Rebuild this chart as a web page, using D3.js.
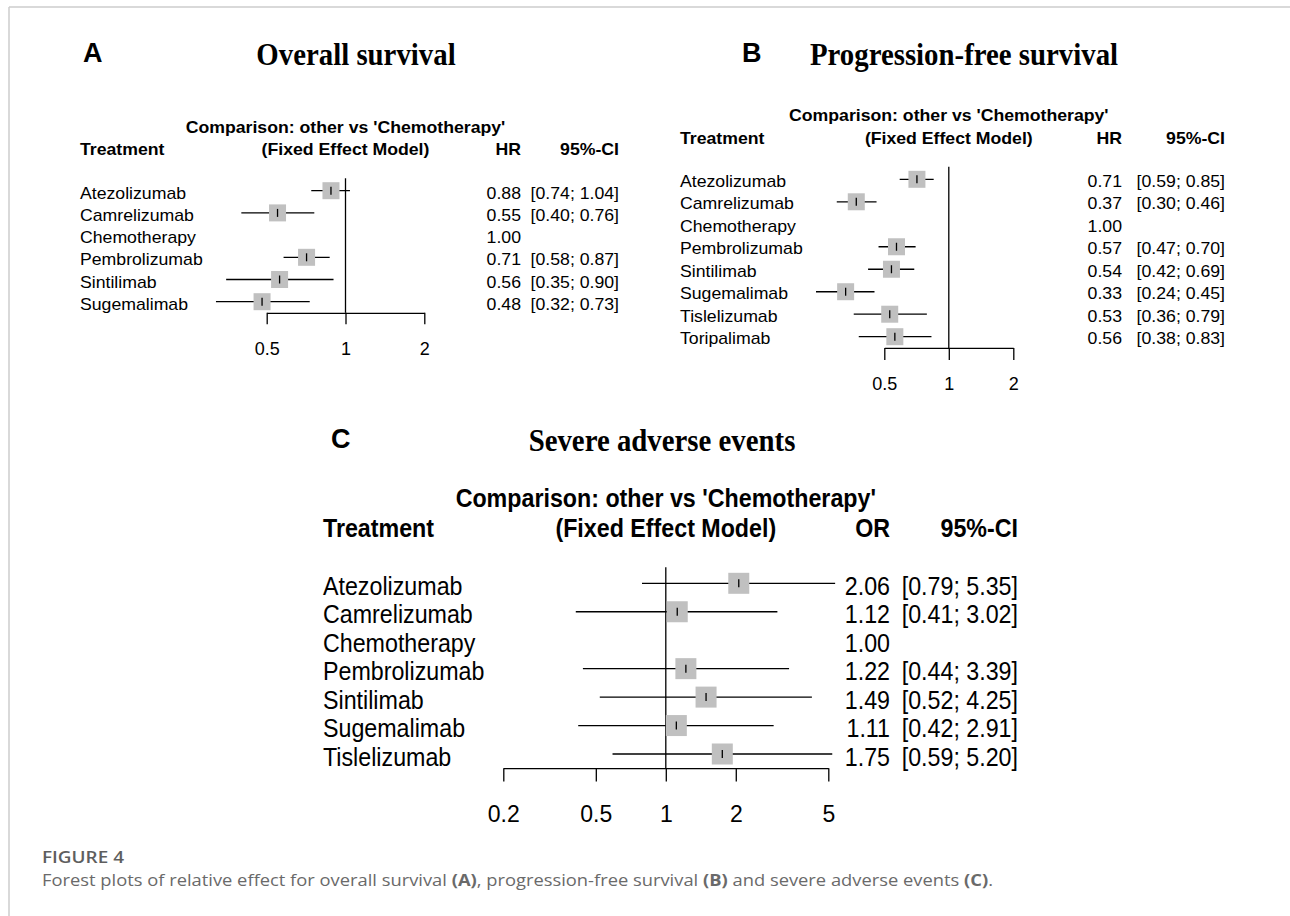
<!DOCTYPE html>
<html>
<head>
<meta charset="utf-8">
<script src="https://cdn.jsdelivr.net/npm/d3@7"></script>
<style>
body { margin: 0; background: #fff; }
svg { display: block; }
</style>
</head>
<body>
<script>
// ---- data ----
let os_treatments = ["Atezolizumab", "Camrelizumab", "Chemotherapy", "Pembrolizumab", "Sintilimab", "Sugemalimab"];
let os_hr    = [0.88, 0.55, 1.00, 0.71, 0.56, 0.48];
let os_lower = [0.74, 0.40, null, 0.58, 0.35, 0.32];
let os_upper = [1.04, 0.76, null, 0.87, 0.90, 0.73];

let pfs_treatments = ["Atezolizumab", "Camrelizumab", "Chemotherapy", "Pembrolizumab", "Sintilimab", "Sugemalimab", "Tislelizumab", "Toripalimab"];
let pfs_hr    = [0.71, 0.37, 1.00, 0.57, 0.54, 0.33, 0.53, 0.56];
let pfs_lower = [0.59, 0.30, null, 0.47, 0.42, 0.24, 0.36, 0.38];
let pfs_upper = [0.85, 0.46, null, 0.70, 0.69, 0.45, 0.79, 0.83];

let sae_treatments = ["Atezolizumab", "Camrelizumab", "Chemotherapy", "Pembrolizumab", "Sintilimab", "Sugemalimab", "Tislelizumab"];
let sae_or    = [2.06, 1.12, 1.00, 1.22, 1.49, 1.11, 1.75];
let sae_lower = [0.79, 0.41, null, 0.44, 0.52, 0.42, 0.59];
let sae_upper = [5.35, 3.02, null, 3.39, 4.25, 2.91, 5.20];

let ticks_survival = [0.5, 1, 2];
let ticks_sae = [0.2, 0.5, 1, 2, 5];

let width = 1290,
    height = 916;

let svg = d3.select("body")
    .append("svg")
    .attr("width", width)
    .attr("height", height)
    .style("font-family", "'Liberation Sans', Arial, sans-serif");

// page frame
svg.append("line")
    .attr("x1", 9).attr("x2", width).attr("y1", 7).attr("y2", 7)
    .attr("stroke", "#cccccc").attr("stroke-width", 1.5);
svg.append("line")
    .attr("x1", 9).attr("x2", 9).attr("y1", 7).attr("y2", height)
    .attr("stroke", "#cccccc").attr("stroke-width", 1.5);

function put_text(g, x, y, str, size, sx, anchor, weight){
    return g.append("text")
        .attr("transform", "translate(" + x + "," + y + ") scale(" + sx + ",1)")
        .attr("text-anchor", anchor)
        .style("font-size", size + "px")
        .style("font-weight", weight)
        .attr("fill", "#000")
        .text(str);
}

function fmt(v){ return v.toFixed(2); }

function forest(p){
    let g = svg.append("g");
    let x = d3.scaleLog().domain(d3.extent(p.ticks)).range(p.xRange);
    let y = d3.scalePoint().domain(p.treatments).range(p.yRange);
    let step = y.step();
    let axisY = p.yRange[1] + step * 0.5;
    let rows = p.treatments.map(function(t, i){
        return {name: t, est: p.est[i], lo: p.lower[i], hi: p.upper[i]};
    });
    let dy = p.fontSize * 0.36 + p.textShift;

    /* ------- panel letter and title -------*/
    g.append("text")
        .attr("x", p.letterX).attr("y", p.letterY)
        .style("font-size", "27px").style("font-weight", "bold")
        .text(p.letter);
    g.append("text")
        .attr("transform", "translate(" + p.titleX + "," + p.titleY + ") scale(0.93,1)")
        .attr("text-anchor", "middle")
        .style("font-family", "'Liberation Serif', 'Times New Roman', serif")
        .style("font-size", "31px").style("font-weight", "bold")
        .text(p.title);

    /* ------- column headers -------*/
    put_text(g, x(1), p.hdr1, "Comparison: other vs 'Chemotherapy'", p.fontSize, p.sx, "middle", "bold");
    put_text(g, p.labelX, p.hdr2, "Treatment", p.fontSize, p.sx, "start", "bold");
    put_text(g, x(1), p.hdr2, "(Fixed Effect Model)", p.fontSize, p.sx, "middle", "bold");
    put_text(g, p.estRight, p.hdr2, p.effect, p.fontSize, p.sx, "end", "bold");
    put_text(g, p.ciRight, p.hdr2, "95%-CI", p.fontSize, p.sx, "end", "bold");

    /* ------- reference line -------*/
    g.append("line")
        .attr("x1", x(1)).attr("x2", x(1))
        .attr("y1", p.yRange[0] - step * 0.56)
        .attr("y2", axisY)
        .attr("stroke", "#000").attr("stroke-width", 1.3);

    /* ------- rows -------*/
    rows.forEach(function(d){
        let yy = y(d.name);
        put_text(g, p.labelX, yy + dy, d.name, p.fontSize, p.sx, "start", "normal");
        put_text(g, p.estRight, yy + dy, fmt(d.est), p.fontSize, p.sx, "end", "normal");
        if(d.lo === null) return;
        put_text(g, p.ciRight, yy + dy, "[" + fmt(d.lo) + "; " + fmt(d.hi) + "]", p.fontSize, p.sx, "end", "normal");

        g.append("line")
            .attr("x1", x(d.lo)).attr("x2", x(d.hi))
            .attr("y1", yy).attr("y2", yy)
            .attr("stroke", "#000").attr("stroke-width", 1.3);
        g.append("rect")
            .attr("x", x(d.est) - p.box / 2).attr("y", yy - p.box / 2)
            .attr("width", p.box).attr("height", p.box)
            .attr("fill", "#c0c0c0");
        g.append("line")
            .attr("x1", x(d.est)).attr("x2", x(d.est))
            .attr("y1", yy - 4).attr("y2", yy + 4)
            .attr("stroke", "#000").attr("stroke-width", 1.3);
    });

    /* ------- axis -------*/
    let axis = d3.axisBottom(x)
        .tickValues(p.ticks)
        .tickFormat(d3.format(""))
        .tickSize(p.tickLen)
        .tickSizeOuter(0)
        .tickPadding(p.tickPad);

    let ax = g.append("g")
        .attr("transform", "translate(0," + axisY + ")")
        .call(axis);
    ax.attr("font-family", null);
    ax.select(".domain").attr("stroke", "#000").attr("stroke-width", 1.3);
    ax.selectAll(".tick line").attr("stroke", "#000").attr("stroke-width", 1.3);
    ax.selectAll(".tick text")
        .attr("fill", "#000")
        .style("font-size", p.tickFont + "px");
}

forest({
    letter: "A", letterX: 83, letterY: 62,
    title: "Overall survival", titleX: 356, titleY: 65,
    treatments: os_treatments, est: os_hr, lower: os_lower, upper: os_upper,
    ticks: ticks_survival, effect: "HR",
    xRange: [266.7, 424.3], yRange: [190.7, 301.7],
    labelX: 80, estRight: 521, ciRight: 619,
    hdr1: 133, hdr2: 155,
    fontSize: 17, sx: 1.04, textShift: 2,
    box: 17, tickLen: 11.5, tickPad: 17.5, tickFont: 18
});

forest({
    letter: "B", letterX: 742, letterY: 62,
    title: "Progression-free survival", titleX: 964, titleY: 65,
    treatments: pfs_treatments, est: pfs_hr, lower: pfs_lower, upper: pfs_upper,
    ticks: ticks_survival, effect: "HR",
    xRange: [884.3, 1013.3], yRange: [179.3, 336.7],
    labelX: 680, estRight: 1122, ciRight: 1225,
    hdr1: 121, hdr2: 143.5,
    fontSize: 17, sx: 1.04, textShift: 1.5,
    box: 17, tickLen: 12, tickPad: 17, tickFont: 18
});

forest({
    letter: "C", letterX: 331, letterY: 448,
    title: "Severe adverse events", titleX: 662, titleY: 451,
    treatments: sae_treatments, est: sae_or, lower: sae_lower, upper: sae_upper,
    ticks: ticks_sae, effect: "OR",
    xRange: [503.3, 828.3], yRange: [583.3, 754],
    labelX: 323, estRight: 890, ciRight: 1018,
    hdr1: 507, hdr2: 536.7,
    fontSize: 25, sx: 0.93, textShift: 2.5,
    box: 21, tickLen: 13.4, tickPad: 24, tickFont: 23
});

/* ------- caption -------*/
let cap = svg.append("g").style("font-family", "'Open Sans', 'Noto Sans', sans-serif");
cap.append("text")
    .attr("x", 42).attr("y", 863)
    .attr("textLength", 82)
    .attr("lengthAdjust", "spacingAndGlyphs")
    .style("font-size", "16.5px").style("font-weight", 600)
    .attr("fill", "#5e5e5e")
    .text("FIGURE 4");

let line2 = cap.append("text")
    .attr("x", 42).attr("y", 886)
    .attr("textLength", 951)
    .attr("lengthAdjust", "spacingAndGlyphs")
    .style("font-size", "16.5px")
    .attr("fill", "#6a6a6a");
let parts = [
    ["Forest plots of relative effect for overall survival ", 400],
    ["(A)", 700],
    [", progression-free survival ", 400],
    ["(B)", 700],
    [" and severe adverse events ", 400],
    ["(C)", 700],
    [".", 400]
];
parts.forEach(function(t){
    line2.append("tspan").style("font-weight", t[1]).text(t[0]);
});
</script>
</body>
</html>
